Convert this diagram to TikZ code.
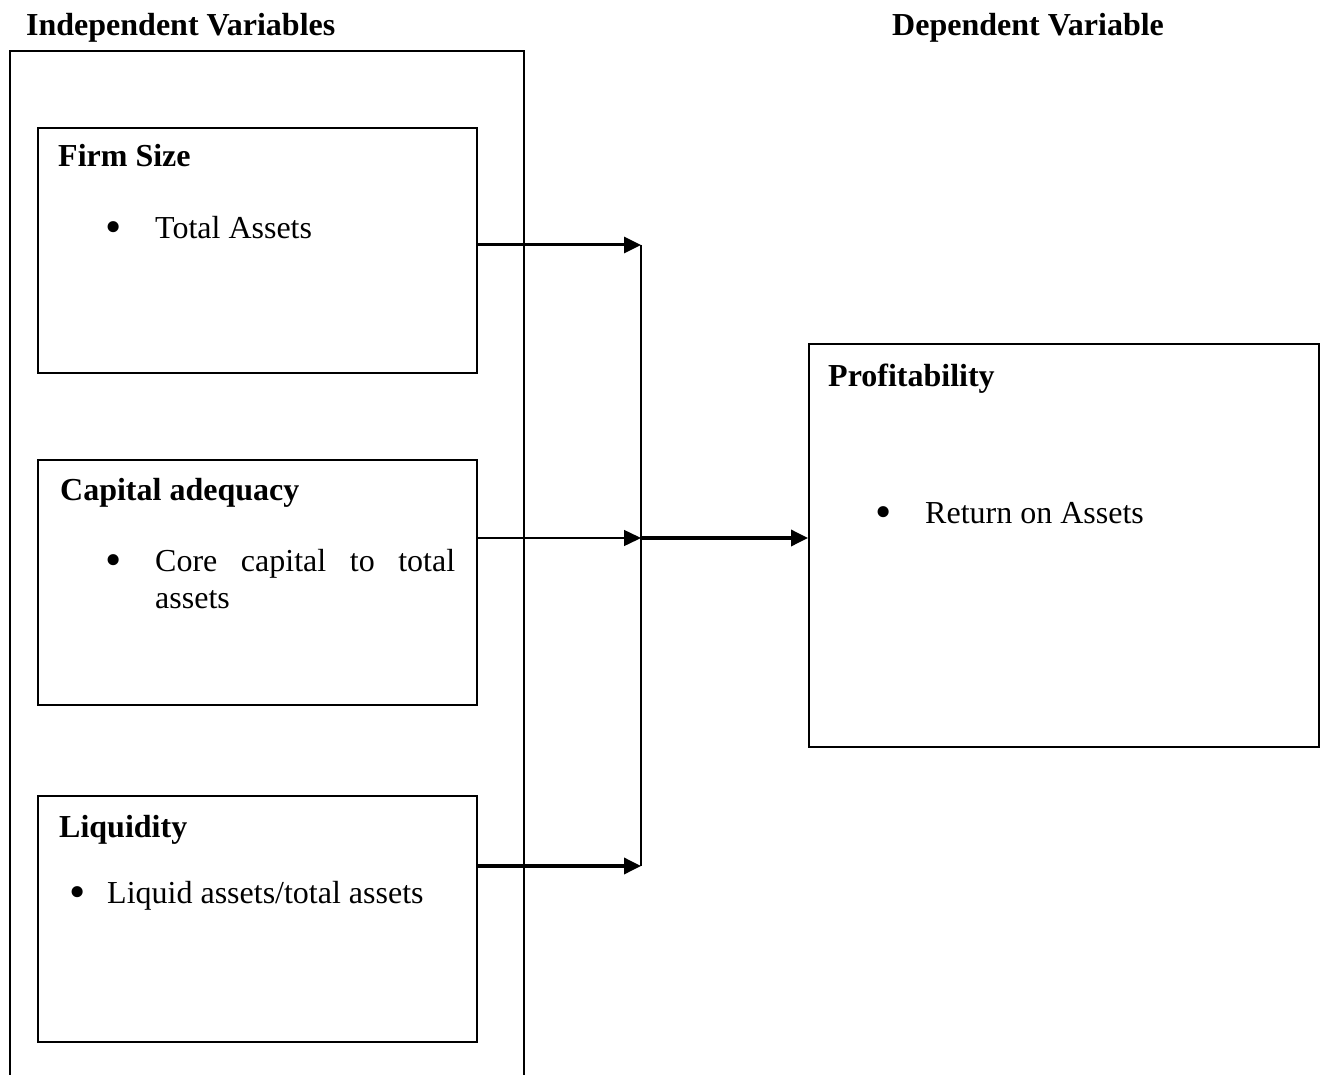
\documentclass[tikz,border=0pt]{standalone}
\usepackage{fontspec}
\setmainfont{Liberation Serif}
\usetikzlibrary{arrows.meta}
\begin{document}
\begin{tikzpicture}[x=1pt,y=-1pt,
  box/.style={draw,line width=2pt,inner sep=0pt,anchor=north west},
  txt/.style={inner sep=0pt,anchor=base west,font=\fontsize{32}{37}\selectfont},
  head/.style={txt,font=\fontsize{32}{37}\selectfont\bfseries},
  bul/.style={inner sep=0pt,anchor=base,font=\fontsize{32}{37}\selectfont},
  arr/.style={-{Triangle[length=17pt,width=16pt]}},
]
\useasboundingbox (0,0) rectangle (1325,1075);
% outer open frame
\draw[line width=2pt] (10,1080) -- (10,51) -- (524,51) -- (524,1080);
% headings
\node[head] (hi) at (26,36) {Independent Variables};
\node[head] (hd) at (892,36) {Dependent Variable};
% boxes
\node[box,minimum width=439pt,minimum height=245pt] (firm) at (37,127) {};
\node[box,minimum width=439pt,minimum height=245pt] (cap) at (37,459) {};
\node[box,minimum width=439pt,minimum height=246pt] (liq) at (37,795) {};
\node[box,minimum width=510pt,minimum height=403pt] (prof) at (808,343) {};
% texts
\node[head] (t1) at (58,167) {Firm Size};
\node[bul] (b1) at (114,243) {\scalebox{1.45}{\textbullet}};
\node[txt] (t1a) at (155,239) {Total Assets};
\node[head] (t2) at (60,500) {Capital adequacy};
\node[bul] (b2) at (114,575) {\scalebox{1.45}{\textbullet}};
\node[txt] (t2a) at (155,571) {\makebox[300pt][s]{Core capital to total}};
\node[txt] (t2b) at (155,608) {assets};
\node[head] (t3) at (59,837) {Liquidity};
\node[bul] (b3) at (78,907) {\scalebox{1.45}{\textbullet}};
\node[txt] (t3a) at (107,903) {Liquid assets/total assets};
\node[head] (t4) at (828,386) {Profitability};
\node[bul] (b4) at (884,527) {\scalebox{1.45}{\textbullet}};
\node[txt] (t4a) at (925,523) {Return on Assets};
% connectors
\coordinate (j1) at (641,245);
\coordinate (j2) at (641,538);
\coordinate (j3) at (641,866);
\draw[line width=2pt] (j1) -- (j3);
\draw[arr,line width=3pt] (firm.east |- j1) -- (j1);
\draw[arr,line width=1.5pt] (cap.east |- j2) -- (j2);
\draw[arr,line width=3.5pt] (liq.east |- j3) -- (j3);
\draw[arr,line width=3.5pt] (j2) -- (prof.west |- j2);
\end{tikzpicture}
\end{document}
